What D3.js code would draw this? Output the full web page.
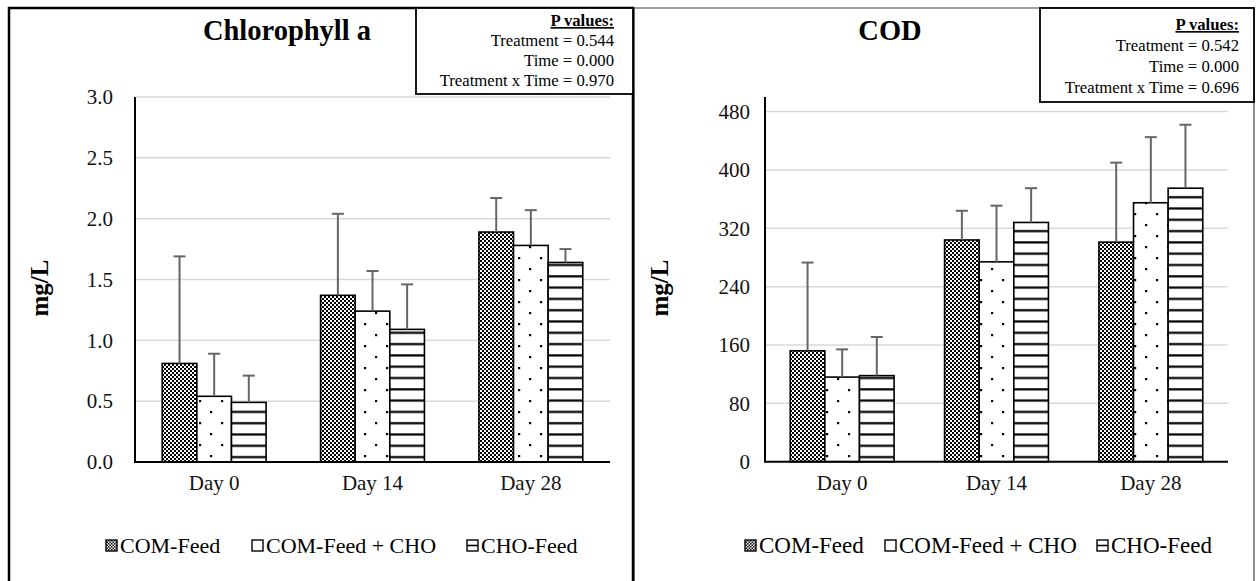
<!DOCTYPE html>
<html>
<head>
<meta charset="utf-8">
<script src="https://cdn.jsdelivr.net/npm/d3@7"></script>
<style>
  html, body { margin: 0; padding: 0; background: #fff; }
  svg { display: block; font-family: "Liberation Serif", "DejaVu Serif", serif; }
</style>
</head>
<body>
<svg id="chart" width="1257" height="581"></svg>
<script>
// ---- data ----
const days = ["Day 0", "Day 14", "Day 28"];
const treatments = ["COM-Feed", "COM-Feed + CHO", "CHO-Feed"];

// Chlorophyll a (mg/L): means and upper error (SD)
const chlCom = [0.81, 1.37, 1.89];
const chlComCho = [0.54, 1.24, 1.78];
const chlCho = [0.49, 1.09, 1.64];
const chlComErr = [0.88, 0.67, 0.28];
const chlComChoErr = [0.35, 0.33, 0.29];
const chlChoErr = [0.22, 0.37, 0.11];
const chlTicks = [0, 0.5, 1.0, 1.5, 2.0, 2.5, 3.0];
const chlP = ["Treatment = 0.544", "Time = 0.000", "Treatment x Time = 0.970"];

// COD (mg/L): means and upper error (SD)
const codCom = [152, 304, 301];
const codComCho = [116, 274, 355];
const codCho = [118, 328, 375];
const codComErr = [121, 40, 109];
const codComChoErr = [38, 77, 90];
const codChoErr = [53, 47, 87];
const codTicks = [0, 80, 160, 240, 320, 400, 480];
const codP = ["Treatment = 0.542", "Time = 0.000", "Treatment x Time = 0.696"];

const svg = d3.select("#chart");
const defs = svg.append("defs");

// fill patterns for the three treatments
const chk = defs.append("pattern").attr("id", "pat0").attr("patternUnits", "userSpaceOnUse")
  .attr("width", 4).attr("height", 4);
chk.append("rect").attr("width", 4).attr("height", 4).attr("fill", "#fff");
chk.append("rect").attr("width", 2).attr("height", 2).attr("fill", "#000");
chk.append("rect").attr("x", 2).attr("y", 2).attr("width", 2).attr("height", 2).attr("fill", "#000");

const dots = defs.append("pattern").attr("id", "pat1").attr("patternUnits", "userSpaceOnUse")
  .attr("width", 22).attr("height", 22);
dots.append("rect").attr("width", 22).attr("height", 22).attr("fill", "#fff");
dots.append("rect").attr("x", 1).attr("y", 4).attr("width", 2.2).attr("height", 2.2).attr("fill", "#000");
dots.append("rect").attr("x", 12).attr("y", 15).attr("width", 2.2).attr("height", 2.2).attr("fill", "#000");

const hl = defs.append("pattern").attr("id", "pat2").attr("patternUnits", "userSpaceOnUse")
  .attr("width", 8).attr("height", 11.3);
hl.append("rect").attr("width", 8).attr("height", 11.3).attr("fill", "#fff");
hl.append("rect").attr("y", 4).attr("width", 8).attr("height", 2.2).attr("fill", "#000");

// legend swatch pattern (finer checker)
const lchk = defs.append("pattern").attr("id", "lpat0").attr("patternUnits", "userSpaceOnUse")
  .attr("width", 3).attr("height", 3);
lchk.append("rect").attr("width", 3).attr("height", 3).attr("fill", "#fff");
lchk.append("rect").attr("width", 1.5).attr("height", 1.5).attr("fill", "#000");
lchk.append("rect").attr("x", 1.5).attr("y", 1.5).attr("width", 1.5).attr("height", 1.5).attr("fill", "#000");

const fills = ["url(#pat0)", "url(#pat1)", "url(#pat2)"];

function drawPanel(cfg) {
  const g = svg.append("g");

  // panel frame
  g.append("path")
    .attr("d", `M${cfg.frame[0]},590 V${cfg.frame[1]} H${cfg.frame[2]} V590`)
    .attr("fill", "none")
    .attr("stroke", cfg.thickFrame ? "#000" : "#444")
    .attr("stroke-width", cfg.thickFrame ? 2.5 : 1.2);

  const x0 = d3.scaleBand().domain(days).range(cfg.xRange)
    .paddingInner(cfg.pad).paddingOuter(cfg.pad / 2);
  const x1 = d3.scaleBand().domain([0, 1, 2]).range([0, x0.bandwidth()]);
  const y = d3.scaleLinear().domain(cfg.yDomain).range([cfg.yBase, cfg.yTop]);

  // gridlines
  g.append("g").selectAll("line").data(cfg.ticks.slice(1)).join("line")
    .attr("x1", cfg.xRange[0]).attr("x2", cfg.xRange[1])
    .attr("y1", d => y(d)).attr("y2", d => y(d))
    .attr("stroke", "#d9d9d9").attr("stroke-width", 1.5);

  // y tick labels
  const yAxis = d3.axisLeft(y).tickValues(cfg.ticks).tickFormat(cfg.fmt).tickSize(0).tickPadding(cfg.tickPad);
  const ya = g.append("g").attr("transform", `translate(${cfg.xRange[0]},0)`).call(yAxis);
  ya.select(".domain").remove();
  ya.selectAll("text").attr("font-size", 21).attr("fill", "#111")
    .attr("font-family", "Liberation Serif");

  // bars
  cfg.series.forEach((vals, si) => {
    g.append("g").selectAll("rect").data(vals).join("rect")
      .attr("x", (d, i) => x0(days[i]) + x1(si))
      .attr("y", d => y(d))
      .attr("width", x1.bandwidth())
      .attr("height", d => y(0) - y(d))
      .attr("fill", fills[si])
      .attr("stroke", "#000").attr("stroke-width", 1.6);
  });

  // upper error bars
  cfg.series.forEach((vals, si) => {
    const eg = g.append("g").attr("stroke", "#666").attr("stroke-width", 2);
    vals.forEach((v, i) => {
      const cx = x0(days[i]) + x1(si) + x1.bandwidth() / 2;
      const top = y(v + cfg.errs[si][i]);
      eg.append("line").attr("x1", cx).attr("x2", cx).attr("y1", y(v)).attr("y2", top);
      eg.append("line").attr("x1", cx - 6).attr("x2", cx + 6).attr("y1", top).attr("y2", top);
    });
  });

  // axis lines
  g.append("line").attr("x1", cfg.xRange[0]).attr("x2", cfg.xRange[0])
    .attr("y1", cfg.yTop).attr("y2", cfg.yBase + 1).attr("stroke", "#000").attr("stroke-width", 2);
  g.append("line").attr("x1", cfg.xRange[0]).attr("x2", cfg.xRange[1])
    .attr("y1", cfg.yBase).attr("y2", cfg.yBase).attr("stroke", "#000").attr("stroke-width", 2);

  // category labels
  const xAxis = d3.axisBottom(x0).tickSize(0).tickPadding(13);
  const xa = g.append("g").attr("transform", `translate(0,${cfg.yBase})`).call(xAxis);
  xa.select(".domain").remove();
  xa.selectAll("text").attr("font-size", 21).attr("fill", "#111")
    .attr("font-family", "Liberation Serif");

  // title
  g.append("text").attr("x", cfg.titleX).attr("y", 40).attr("text-anchor", "middle")
    .attr("font-size", 28.5).attr("font-weight", "bold").text(cfg.title);

  // y-axis title
  g.append("text").attr("transform", `translate(${cfg.yTitleX},288) rotate(-90)`)
    .attr("text-anchor", "middle").attr("font-size", 25).attr("font-weight", "bold").text("mg/L");

  // p-value box
  const b = cfg.pbox;
  g.append("rect").attr("x", b.x).attr("y", b.y).attr("width", b.w).attr("height", b.h)
    .attr("fill", "#fff").attr("stroke", "#000").attr("stroke-width", 1.8);
  g.append("text").attr("x", b.tx).attr("y", b.base).attr("text-anchor", "end")
    .attr("font-size", 16.7).attr("font-weight", "bold").attr("text-decoration", "underline")
    .text("P values:");
  g.append("g").selectAll("text").data(cfg.pvals).join("text")
    .attr("x", b.tx).attr("y", (d, i) => b.base + (i + 1) * b.step)
    .attr("text-anchor", "end").attr("font-size", 16.7).text(d => d);

  // legend
  const lg = g.append("g");
  treatments.forEach((t, i) => {
    const lx = cfg.legendX[i];
    lg.append("rect").attr("x", lx).attr("y", 540).attr("width", 11).attr("height", 11)
      .attr("fill", i === 0 ? "url(#lpat0)" : "#fff").attr("stroke", "#000").attr("stroke-width", 1.4);
    if (i === 2) {
      lg.append("line").attr("x1", lx).attr("x2", lx + 11).attr("y1", 545.5).attr("y2", 545.5)
        .attr("stroke", "#000").attr("stroke-width", 1.6);
    }
    lg.append("text").attr("x", lx + 14).attr("y", 552.5).attr("font-size", cfg.legendFont).text(t);
  });
}

drawPanel({
  thickFrame: false,
  frame: [634, 8, 1254],
  xRange: [765, 1228], pad: 0.327,
  yDomain: [0, 500], yBase: 461.7, yTop: 97,
  ticks: codTicks, fmt: d3.format("d"), tickPad: 15,
  series: [codCom, codComCho, codCho],
  errs: [codComErr, codComChoErr, codChoErr],
  title: "COD", titleX: 890, yTitleX: 668,
  pbox: { x: 1040, y: 8, w: 214, h: 94, tx: 1239, base: 30, step: 21 },
  pvals: codP,
  legendX: [745, 885, 1097], legendFont: 23
});

drawPanel({
  thickFrame: true,
  frame: [9, 8, 633],
  xRange: [135, 610], pad: 0.344,
  yDomain: [0, 3], yBase: 462, yTop: 97,
  ticks: chlTicks, fmt: d3.format(".1f"), tickPad: 22,
  series: [chlCom, chlComCho, chlCho],
  errs: [chlComErr, chlComChoErr, chlChoErr],
  title: "Chlorophyll a", titleX: 287, yTitleX: 48,
  pbox: { x: 416, y: 8, w: 217, h: 86, tx: 614, base: 26, step: 20 },
  pvals: chlP,
  legendX: [106, 252, 467], legendFont: 22
});
</script>
</body>
</html>
